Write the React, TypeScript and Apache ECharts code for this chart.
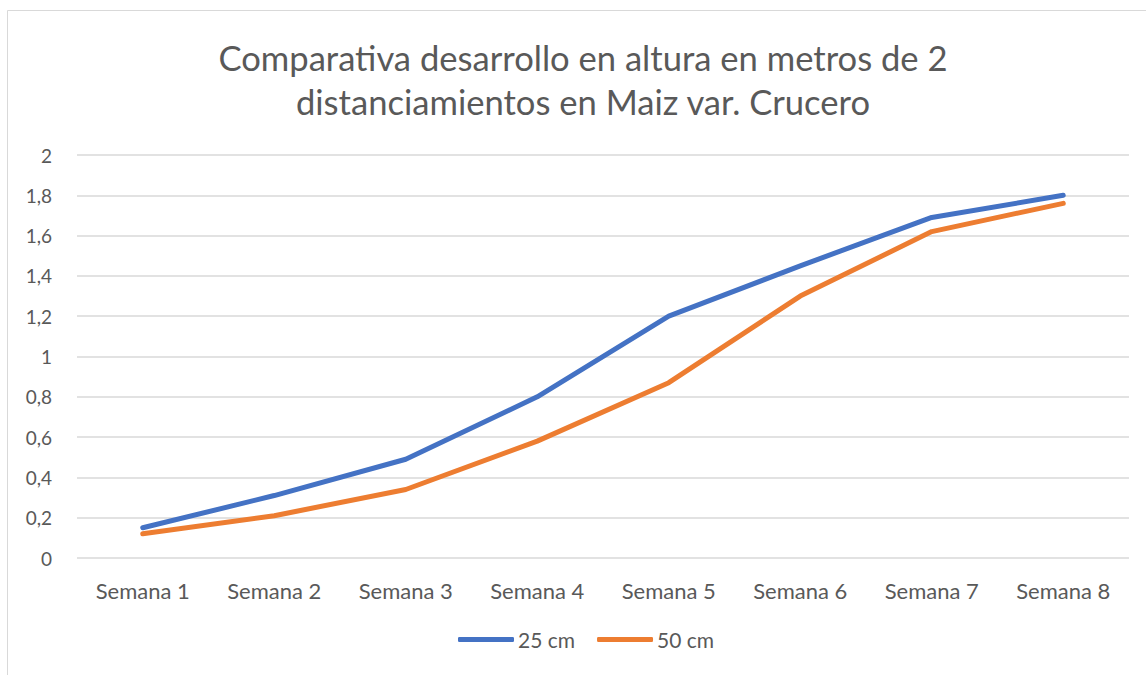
import React, { useEffect, useRef } from "react";
import * as echarts from "echarts";

const categories = ["Semana 1", "Semana 2", "Semana 3", "Semana 4", "Semana 5", "Semana 6", "Semana 7", "Semana 8"];
const serie25 = [0.15, 0.31, 0.49, 0.8, 1.2, 1.45, 1.69, 1.8];
const serie50 = [0.12, 0.21, 0.34, 0.58, 0.87, 1.3, 1.62, 1.76];
const seriesNames = ["25 cm", "50 cm"];
const titleText = "Comparativa desarrollo en altura en metros de 2\ndistanciamientos en Maiz var. Crucero";

export default function App() {
  const ref = useRef<HTMLDivElement>(null);
  useEffect(() => {
    if (!ref.current) return;
    const chart = echarts.init(ref.current, null, { renderer: "svg" });
    const font = "Lato, 'Open Sans', sans-serif";
    chart.setOption({
      animation: false,
      backgroundColor: "#ffffff",
      textStyle: { fontFamily: font },
      graphic: [
        {
          type: "rect",
          shape: { x: 7.5, y: 10.5, width: 1300, height: 800 },
          style: { fill: "none", stroke: "#d9d9d9", lineWidth: 1 },
          silent: true,
        },
        {
          type: "text",
          x: 583,
          y: 35,
          silent: true,
          style: {
            text: titleText,
            align: "center",
            verticalAlign: "top",
            fontFamily: font,
            fontSize: 34.6,
            lineHeight: 44,
            fill: "#595959",
          },
        },
      ],
      legend: {
        bottom: 20,
        left: 453,
        itemWidth: 56,
        itemHeight: 5,
        itemGap: 22,
        icon: "roundRect",
        textStyle: { fontFamily: font, fontSize: 21, color: "#595959", padding: [0, 0, 0, -1] },
        data: seriesNames,
      },
      grid: { left: 77, right: 17, top: 155, bottom: 117, containLabel: false },
      xAxis: {
        type: "category",
        data: categories,
        boundaryGap: true,
        axisLine: { show: false },
        axisTick: { show: false },
        axisLabel: { fontFamily: font, fontSize: 22, color: "#595959", margin: 21 },
      },
      yAxis: {
        type: "value",
        min: 0,
        max: 2,
        interval: 0.2,
        axisLine: { show: false },
        axisTick: { show: false },
        splitLine: { lineStyle: { color: "#d9d9d9", width: 1.5 } },
        axisLabel: {
          fontFamily: font,
          fontSize: 19,
          color: "#595959",
          margin: 25,
          formatter: (v: number) => String(Math.round(v * 10) / 10).replace(".", ","),
        },
      },
      series: [
        {
          name: seriesNames[0],
          type: "line",
          data: serie25,
          showSymbol: false,
          symbol: "none",
          lineStyle: { color: "#4472C4", width: 5, cap: "round", join: "round" },
          itemStyle: { color: "#4472C4" },
        },
        {
          name: seriesNames[1],
          type: "line",
          data: serie50,
          showSymbol: false,
          symbol: "none",
          lineStyle: { color: "#ED7D31", width: 5, cap: "round", join: "round" },
          itemStyle: { color: "#ED7D31" },
        },
      ],
    });
    return () => chart.dispose();
  }, []);
  return <div ref={ref} style={{ position: "absolute", left: 0, top: 0, width: 1146, height: 675 }} />;
}
